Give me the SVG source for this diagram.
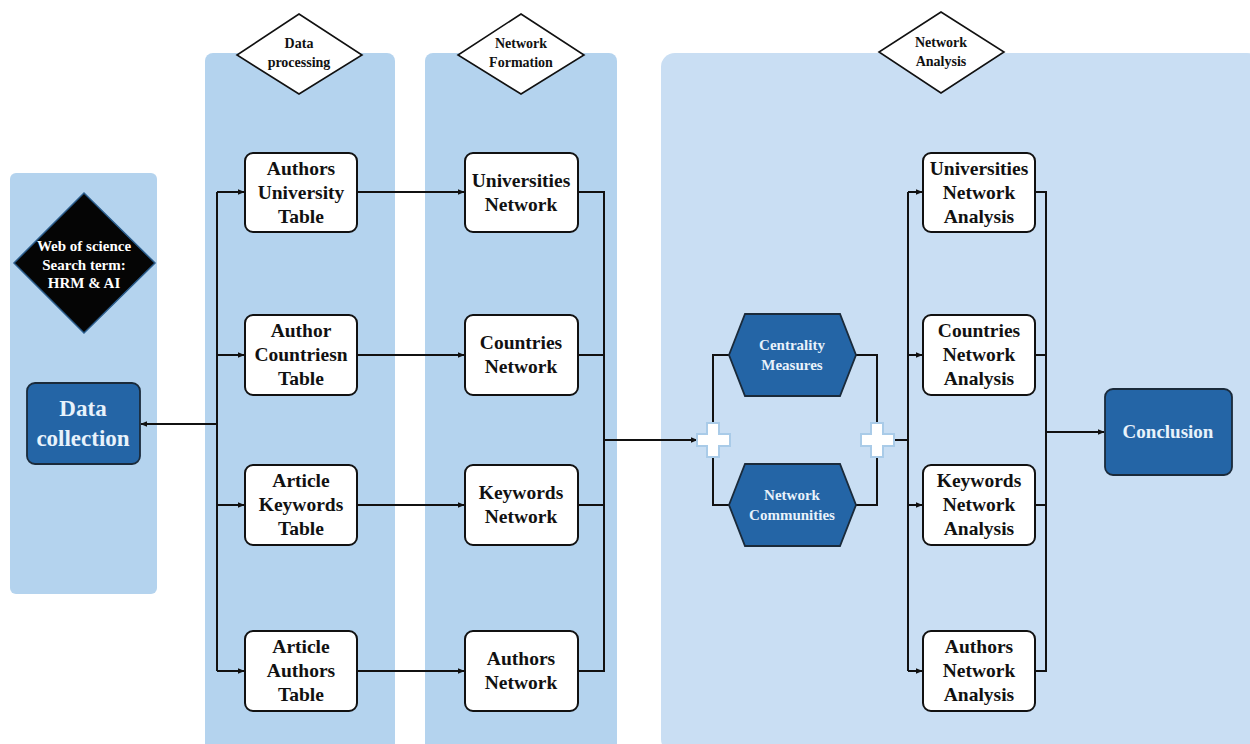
<svg xmlns="http://www.w3.org/2000/svg" width="1250" height="744" viewBox="0 0 1250 744">
<defs>
<style>
.panel{fill:#b4d3ee}
.panel2{fill:#c9def3}
.box{fill:#fff;stroke:#111;stroke-width:2}
.dark{fill:#2465a6;stroke:#1a2a3a;stroke-width:1.8}
.dia{fill:#fff;stroke:#111;stroke-width:1.6}
.t{font-family:"Liberation Serif","Times New Roman",serif;font-weight:bold;text-anchor:middle;fill:#111}
.bt{font-size:19.5px}
.dt{font-size:14px}
.wt{fill:#e8f2fb}
.ln{fill:none;stroke:#111;stroke-width:2}
.plus{fill:#fff;stroke:#a9cbe8;stroke-width:2}
</style>
<marker id="ar" viewBox="0 0 10 10" refX="9" refY="5" markerWidth="7" markerHeight="7" orient="auto" markerUnits="userSpaceOnUse">
<path d="M0,1 L10,5 L0,9 z" fill="#111"/>
</marker>
</defs>
<rect width="1250" height="744" fill="#fff"/>
<g id="panels">
<rect class="panel" x="10" y="173" width="147" height="421" rx="6"/>
<rect class="panel" x="205" y="53" width="190" height="700" rx="8"/>
<rect class="panel" x="425" y="53" width="192" height="700" rx="8"/>
<rect class="panel2" x="661" y="53" width="600" height="700" rx="14"/>
</g>
<g id="connectors">
<path class="ln" d="M217,424 H141" marker-end="url(#ar)"/>
<path class="ln" d="M217,192 V671"/>
<path class="ln" d="M217,192 H244" marker-end="url(#ar)"/>
<path class="ln" d="M217,355 H244" marker-end="url(#ar)"/>
<path class="ln" d="M217,505 H244" marker-end="url(#ar)"/>
<path class="ln" d="M217,671 H244" marker-end="url(#ar)"/>
<path class="ln" d="M357,192 H464" marker-end="url(#ar)"/>
<path class="ln" d="M357,355 H464" marker-end="url(#ar)"/>
<path class="ln" d="M357,505 H464" marker-end="url(#ar)"/>
<path class="ln" d="M357,671 H464" marker-end="url(#ar)"/>
<path class="ln" d="M578,192 H604 V671 H578"/>
<path class="ln" d="M578,355 H604"/>
<path class="ln" d="M578,505 H604"/>
<path class="ln" d="M604,440 H697" marker-end="url(#ar)"/>
<path class="ln" d="M729,355 H713 V505 H729"/>
<path class="ln" d="M856,355 H877 V505 H856"/>
<path class="ln" d="M894,440 H908"/>
<path class="ln" d="M908,192 V671"/>
<path class="ln" d="M908,192 H922" marker-end="url(#ar)"/>
<path class="ln" d="M908,355 H922" marker-end="url(#ar)"/>
<path class="ln" d="M908,505 H922" marker-end="url(#ar)"/>
<path class="ln" d="M908,671 H922" marker-end="url(#ar)"/>
<path class="ln" d="M1035,192 H1046 V671 H1035"/>
<path class="ln" d="M1035,355 H1046"/>
<path class="ln" d="M1035,505 H1046"/>
<path class="ln" d="M1046,432 H1104" marker-end="url(#ar)"/>
</g>
<g id="d-proc">
<polygon class="dia" points="299,14 362,55 299,94 237,55"/>
<text class="t dt" x="299" y="48">Data</text>
<text class="t dt" x="299" y="67">processing</text>
</g>
<g id="d-form">
<polygon class="dia" points="521,14 584,55 521,94 458,55"/>
<text class="t dt" x="521" y="48">Network</text>
<text class="t dt" x="521" y="67">Formation</text>
</g>
<g id="d-anal">
<polygon class="dia" points="941,12 1004,52 941,93 879,52"/>
<text class="t dt" x="941" y="47">Network</text>
<text class="t dt" x="941" y="66">Analysis</text>
</g>
<g id="wos">
<polygon points="84,193 155,263 84,333 14,263" fill="#050505" stroke="#2a5c8c" stroke-width="1.5"/>
<text class="t" x="84" y="251" font-size="15" style="fill:#fff">Web of science</text>
<text class="t" x="84" y="270" font-size="15" style="fill:#fff">Search term:</text>
<text class="t" x="84" y="288" font-size="15" style="fill:#fff">HRM &amp; AI</text>
</g>
<g id="collect">
<rect class="dark" x="27" y="383" width="113" height="81" rx="8"/>
<text class="t wt" x="83" y="416" font-size="23">Data</text>
<text class="t wt" x="83" y="446" font-size="23">collection</text>
</g>
<g id="t1">
<rect class="box" x="245" y="153" width="112" height="79" rx="8"/>
<text class="t bt" x="301" y="175">Authors</text>
<text class="t bt" x="301" y="199">University</text>
<text class="t bt" x="301" y="223">Table</text>
</g>
<g id="t2">
<rect class="box" x="245" y="315" width="112" height="80" rx="8"/>
<text class="t bt" x="301" y="337">Author</text>
<text class="t bt" x="301" y="361">Countriesn</text>
<text class="t bt" x="301" y="385">Table</text>
</g>
<g id="t3">
<rect class="box" x="245" y="465" width="112" height="80" rx="8"/>
<text class="t bt" x="301" y="487">Article</text>
<text class="t bt" x="301" y="511">Keywords</text>
<text class="t bt" x="301" y="535">Table</text>
</g>
<g id="t4">
<rect class="box" x="245" y="631" width="112" height="80" rx="8"/>
<text class="t bt" x="301" y="653">Article</text>
<text class="t bt" x="301" y="677">Authors</text>
<text class="t bt" x="301" y="701">Table</text>
</g>
<g id="n1">
<rect class="box" x="465" y="153" width="113" height="79" rx="8"/>
<text class="t bt" x="521" y="187">Universities</text>
<text class="t bt" x="521" y="211">Network</text>
</g>
<g id="n2">
<rect class="box" x="465" y="315" width="113" height="80" rx="8"/>
<text class="t bt" x="521" y="349">Countries</text>
<text class="t bt" x="521" y="373">Network</text>
</g>
<g id="n3">
<rect class="box" x="465" y="465" width="113" height="80" rx="8"/>
<text class="t bt" x="521" y="499">Keywords</text>
<text class="t bt" x="521" y="523">Network</text>
</g>
<g id="n4">
<rect class="box" x="465" y="631" width="113" height="80" rx="8"/>
<text class="t bt" x="521" y="665">Authors</text>
<text class="t bt" x="521" y="689">Network</text>
</g>
<g id="plus1">
<path class="plus" d="M707,423 H719 V434 H730 V446 H719 V457 H707 V446 H697 V434 H707 Z"/>
</g>
<g id="plus2">
<path class="plus" d="M871,423 H883 V434 H894 V446 H883 V457 H871 V446 H861 V434 H871 Z"/>
</g>
<g id="centrality">
<polygon class="dark" points="729,355 745,314 840,314 856,355 840,396 745,396"/>
<text class="t wt" x="792" y="350" font-size="15">Centrality</text>
<text class="t wt" x="792" y="370" font-size="15">Measures</text>
</g>
<g id="communities">
<polygon class="dark" points="729,505 745,464 840,464 856,505 840,546 745,546"/>
<text class="t wt" x="792" y="500" font-size="15">Network</text>
<text class="t wt" x="792" y="520" font-size="15">Communities</text>
</g>
<g id="a1">
<rect class="box" x="923" y="153" width="112" height="79" rx="8"/>
<text class="t bt" x="979" y="175">Universities</text>
<text class="t bt" x="979" y="199">Network</text>
<text class="t bt" x="979" y="223">Analysis</text>
</g>
<g id="a2">
<rect class="box" x="923" y="315" width="112" height="80" rx="8"/>
<text class="t bt" x="979" y="337">Countries</text>
<text class="t bt" x="979" y="361">Network</text>
<text class="t bt" x="979" y="385">Analysis</text>
</g>
<g id="a3">
<rect class="box" x="923" y="465" width="112" height="80" rx="8"/>
<text class="t bt" x="979" y="487">Keywords</text>
<text class="t bt" x="979" y="511">Network</text>
<text class="t bt" x="979" y="535">Analysis</text>
</g>
<g id="a4">
<rect class="box" x="923" y="631" width="112" height="80" rx="8"/>
<text class="t bt" x="979" y="653">Authors</text>
<text class="t bt" x="979" y="677">Network</text>
<text class="t bt" x="979" y="701">Analysis</text>
</g>
<g id="conclusion">
<rect class="dark" x="1105" y="389" width="127" height="86" rx="8"/>
<text class="t wt" x="1168" y="438" font-size="19">Conclusion</text>
</g>
</svg>
